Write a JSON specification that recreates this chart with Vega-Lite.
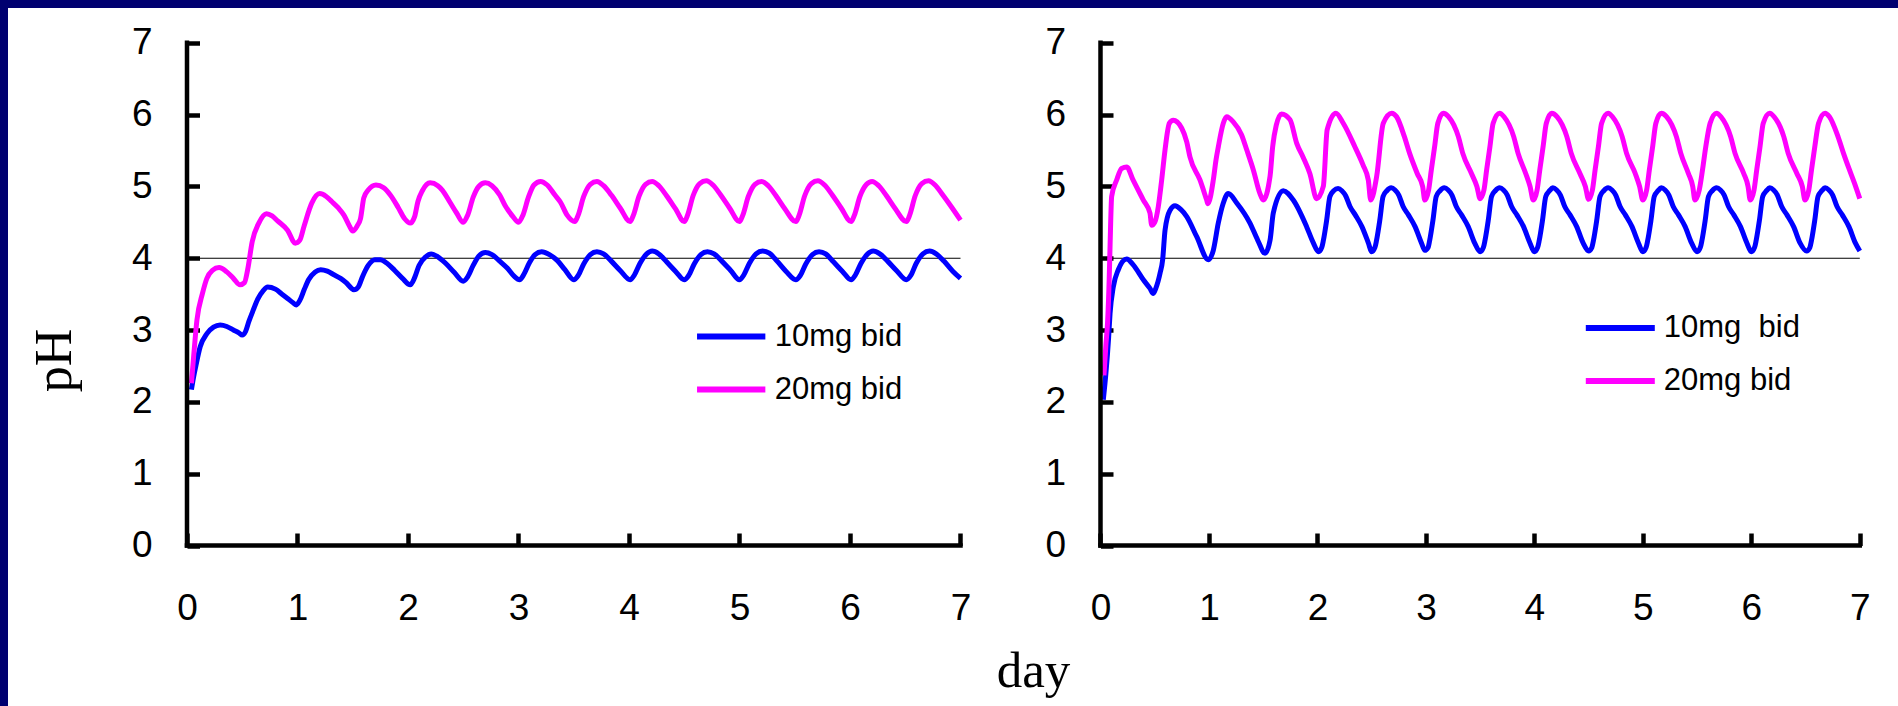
{
  "$schema": "https://vega.github.io/schema/vega-lite/v6.json",
  "width": 1890,
  "height": 698,
  "autosize": {"type": "none"},
  "padding": {"left": 8, "top": 8, "right": 0, "bottom": 0},
  "background": "#000070",
  "view": {"fill": "white", "stroke": null},
  "datasets": {
    "left": [
      {"dose":"10mg bid","day":0.04,"pH":2.17},{"dose":"10mg bid","day":0.06,"pH":2.35},{"dose":"10mg bid","day":0.08,"pH":2.5},{"dose":"10mg bid","day":0.12,"pH":2.77},{"dose":"10mg bid","day":0.18,"pH":2.95},{"dose":"10mg bid","day":0.24,"pH":3.04},{"dose":"10mg bid","day":0.3,"pH":3.07},{"dose":"10mg bid","day":0.36,"pH":3.05},{"dose":"10mg bid","day":0.42,"pH":3.0},{"dose":"10mg bid","day":0.47,"pH":2.96},{"dose":"10mg bid","day":0.5,"pH":2.93},{"dose":"10mg bid","day":0.53,"pH":2.98},{"dose":"10mg bid","day":0.56,"pH":3.12},{"dose":"10mg bid","day":0.6,"pH":3.28},{"dose":"10mg bid","day":0.64,"pH":3.43},{"dose":"10mg bid","day":0.69,"pH":3.55},{"dose":"10mg bid","day":0.73,"pH":3.6},{"dose":"10mg bid","day":0.8,"pH":3.57},{"dose":"10mg bid","day":0.86,"pH":3.5},{"dose":"10mg bid","day":0.91,"pH":3.44},{"dose":"10mg bid","day":0.96,"pH":3.38},{"dose":"10mg bid","day":0.99,"pH":3.35},{"dose":"10mg bid","day":1.02,"pH":3.41},{"dose":"10mg bid","day":1.06,"pH":3.56},{"dose":"10mg bid","day":1.1,"pH":3.7},{"dose":"10mg bid","day":1.16,"pH":3.81},{"dose":"10mg bid","day":1.21,"pH":3.84},{"dose":"10mg bid","day":1.27,"pH":3.82},{"dose":"10mg bid","day":1.33,"pH":3.77},{"dose":"10mg bid","day":1.39,"pH":3.72},{"dose":"10mg bid","day":1.44,"pH":3.66},{"dose":"10mg bid","day":1.49,"pH":3.58},{"dose":"10mg bid","day":1.51,"pH":3.56},{"dose":"10mg bid","day":1.55,"pH":3.6},{"dose":"10mg bid","day":1.59,"pH":3.75},{"dose":"10mg bid","day":1.64,"pH":3.9},{"dose":"10mg bid","day":1.7,"pH":3.98},{"dose":"10mg bid","day":1.75,"pH":3.98},{"dose":"10mg bid","day":1.81,"pH":3.93},{"dose":"10mg bid","day":1.88,"pH":3.83},{"dose":"10mg bid","day":1.95,"pH":3.72},{"dose":"10mg bid","day":2.02,"pH":3.63},{"dose":"10mg bid","day":2.06,"pH":3.73},{"dose":"10mg bid","day":2.1,"pH":3.9},{"dose":"10mg bid","day":2.16,"pH":4.02},{"dose":"10mg bid","day":2.21,"pH":4.06},{"dose":"10mg bid","day":2.27,"pH":4.02},{"dose":"10mg bid","day":2.34,"pH":3.93},{"dose":"10mg bid","day":2.42,"pH":3.8},{"dose":"10mg bid","day":2.5,"pH":3.68},{"dose":"10mg bid","day":2.54,"pH":3.74},{"dose":"10mg bid","day":2.59,"pH":3.9},{"dose":"10mg bid","day":2.64,"pH":4.03},{"dose":"10mg bid","day":2.7,"pH":4.08},{"dose":"10mg bid","day":2.76,"pH":4.05},{"dose":"10mg bid","day":2.83,"pH":3.96},{"dose":"10mg bid","day":2.9,"pH":3.86},{"dose":"10mg bid","day":2.96,"pH":3.75},{"dose":"10mg bid","day":3.01,"pH":3.7},{"dose":"10mg bid","day":3.05,"pH":3.78},{"dose":"10mg bid","day":3.1,"pH":3.94},{"dose":"10mg bid","day":3.15,"pH":4.05},{"dose":"10mg bid","day":3.21,"pH":4.09},{"dose":"10mg bid","day":3.28,"pH":4.05},{"dose":"10mg bid","day":3.35,"pH":3.97},{"dose":"10mg bid","day":3.42,"pH":3.84},{"dose":"10mg bid","day":3.5,"pH":3.7},{"dose":"10mg bid","day":3.54,"pH":3.76},{"dose":"10mg bid","day":3.59,"pH":3.92},{"dose":"10mg bid","day":3.65,"pH":4.05},{"dose":"10mg bid","day":3.71,"pH":4.09},{"dose":"10mg bid","day":3.77,"pH":4.06},{"dose":"10mg bid","day":3.84,"pH":3.96},{"dose":"10mg bid","day":3.92,"pH":3.83},{"dose":"10mg bid","day":4.01,"pH":3.7},{"dose":"10mg bid","day":4.05,"pH":3.77},{"dose":"10mg bid","day":4.1,"pH":3.93},{"dose":"10mg bid","day":4.16,"pH":4.06},{"dose":"10mg bid","day":4.21,"pH":4.1},{"dose":"10mg bid","day":4.27,"pH":4.06},{"dose":"10mg bid","day":4.34,"pH":3.95},{"dose":"10mg bid","day":4.42,"pH":3.82},{"dose":"10mg bid","day":4.5,"pH":3.7},{"dose":"10mg bid","day":4.54,"pH":3.76},{"dose":"10mg bid","day":4.59,"pH":3.92},{"dose":"10mg bid","day":4.65,"pH":4.05},{"dose":"10mg bid","day":4.71,"pH":4.09},{"dose":"10mg bid","day":4.77,"pH":4.06},{"dose":"10mg bid","day":4.84,"pH":3.96},{"dose":"10mg bid","day":4.92,"pH":3.83},{"dose":"10mg bid","day":5.0,"pH":3.7},{"dose":"10mg bid","day":5.04,"pH":3.77},{"dose":"10mg bid","day":5.09,"pH":3.93},{"dose":"10mg bid","day":5.15,"pH":4.06},{"dose":"10mg bid","day":5.21,"pH":4.1},{"dose":"10mg bid","day":5.27,"pH":4.07},{"dose":"10mg bid","day":5.34,"pH":3.96},{"dose":"10mg bid","day":5.42,"pH":3.82},{"dose":"10mg bid","day":5.51,"pH":3.7},{"dose":"10mg bid","day":5.55,"pH":3.76},{"dose":"10mg bid","day":5.6,"pH":3.92},{"dose":"10mg bid","day":5.66,"pH":4.05},{"dose":"10mg bid","day":5.72,"pH":4.09},{"dose":"10mg bid","day":5.78,"pH":4.06},{"dose":"10mg bid","day":5.85,"pH":3.95},{"dose":"10mg bid","day":5.93,"pH":3.82},{"dose":"10mg bid","day":6.01,"pH":3.7},{"dose":"10mg bid","day":6.05,"pH":3.77},{"dose":"10mg bid","day":6.1,"pH":3.93},{"dose":"10mg bid","day":6.16,"pH":4.06},{"dose":"10mg bid","day":6.21,"pH":4.1},{"dose":"10mg bid","day":6.27,"pH":4.06},{"dose":"10mg bid","day":6.34,"pH":3.96},{"dose":"10mg bid","day":6.42,"pH":3.83},{"dose":"10mg bid","day":6.51,"pH":3.7},{"dose":"10mg bid","day":6.55,"pH":3.76},{"dose":"10mg bid","day":6.6,"pH":3.93},{"dose":"10mg bid","day":6.66,"pH":4.06},{"dose":"10mg bid","day":6.72,"pH":4.1},{"dose":"10mg bid","day":6.78,"pH":4.06},{"dose":"10mg bid","day":6.85,"pH":3.96},{"dose":"10mg bid","day":6.93,"pH":3.82},{"dose":"10mg bid","day":7.0,"pH":3.72},
      {"dose":"20mg bid","day":0.04,"pH":2.26},{"dose":"20mg bid","day":0.06,"pH":2.63},{"dose":"20mg bid","day":0.09,"pH":3.14},{"dose":"20mg bid","day":0.14,"pH":3.51},{"dose":"20mg bid","day":0.18,"pH":3.72},{"dose":"20mg bid","day":0.23,"pH":3.83},{"dose":"20mg bid","day":0.29,"pH":3.87},{"dose":"20mg bid","day":0.36,"pH":3.81},{"dose":"20mg bid","day":0.42,"pH":3.72},{"dose":"20mg bid","day":0.48,"pH":3.63},{"dose":"20mg bid","day":0.52,"pH":3.66},{"dose":"20mg bid","day":0.55,"pH":3.85},{"dose":"20mg bid","day":0.59,"pH":4.23},{"dose":"20mg bid","day":0.65,"pH":4.49},{"dose":"20mg bid","day":0.72,"pH":4.62},{"dose":"20mg bid","day":0.77,"pH":4.59},{"dose":"20mg bid","day":0.82,"pH":4.52},{"dose":"20mg bid","day":0.91,"pH":4.39},{"dose":"20mg bid","day":0.98,"pH":4.21},{"dose":"20mg bid","day":1.02,"pH":4.25},{"dose":"20mg bid","day":1.06,"pH":4.45},{"dose":"20mg bid","day":1.13,"pH":4.77},{"dose":"20mg bid","day":1.2,"pH":4.9},{"dose":"20mg bid","day":1.26,"pH":4.86},{"dose":"20mg bid","day":1.31,"pH":4.79},{"dose":"20mg bid","day":1.37,"pH":4.7},{"dose":"20mg bid","day":1.42,"pH":4.6},{"dose":"20mg bid","day":1.47,"pH":4.45},{"dose":"20mg bid","day":1.5,"pH":4.38},{"dose":"20mg bid","day":1.54,"pH":4.45},{"dose":"20mg bid","day":1.57,"pH":4.55},{"dose":"20mg bid","day":1.6,"pH":4.84},{"dose":"20mg bid","day":1.64,"pH":4.95},{"dose":"20mg bid","day":1.71,"pH":5.02},{"dose":"20mg bid","day":1.78,"pH":4.98},{"dose":"20mg bid","day":1.84,"pH":4.88},{"dose":"20mg bid","day":1.91,"pH":4.71},{"dose":"20mg bid","day":1.97,"pH":4.55},{"dose":"20mg bid","day":2.02,"pH":4.49},{"dose":"20mg bid","day":2.06,"pH":4.58},{"dose":"20mg bid","day":2.09,"pH":4.79},{"dose":"20mg bid","day":2.13,"pH":4.94},{"dose":"20mg bid","day":2.2,"pH":5.05},{"dose":"20mg bid","day":2.27,"pH":5.01},{"dose":"20mg bid","day":2.31,"pH":4.95},{"dose":"20mg bid","day":2.38,"pH":4.78},{"dose":"20mg bid","day":2.44,"pH":4.63},{"dose":"20mg bid","day":2.5,"pH":4.5},{"dose":"20mg bid","day":2.54,"pH":4.6},{"dose":"20mg bid","day":2.59,"pH":4.85},{"dose":"20mg bid","day":2.64,"pH":5.0},{"dose":"20mg bid","day":2.7,"pH":5.05},{"dose":"20mg bid","day":2.76,"pH":5.01},{"dose":"20mg bid","day":2.83,"pH":4.88},{"dose":"20mg bid","day":2.88,"pH":4.73},{"dose":"20mg bid","day":2.95,"pH":4.58},{"dose":"20mg bid","day":3.0,"pH":4.5},{"dose":"20mg bid","day":3.04,"pH":4.6},{"dose":"20mg bid","day":3.09,"pH":4.85},{"dose":"20mg bid","day":3.14,"pH":5.02},{"dose":"20mg bid","day":3.2,"pH":5.07},{"dose":"20mg bid","day":3.26,"pH":5.02},{"dose":"20mg bid","day":3.33,"pH":4.88},{"dose":"20mg bid","day":3.38,"pH":4.78},{"dose":"20mg bid","day":3.44,"pH":4.6},{"dose":"20mg bid","day":3.51,"pH":4.51},{"dose":"20mg bid","day":3.54,"pH":4.6},{"dose":"20mg bid","day":3.59,"pH":4.86},{"dose":"20mg bid","day":3.65,"pH":5.03},{"dose":"20mg bid","day":3.71,"pH":5.07},{"dose":"20mg bid","day":3.77,"pH":5.01},{"dose":"20mg bid","day":3.84,"pH":4.88},{"dose":"20mg bid","day":3.92,"pH":4.7},{"dose":"20mg bid","day":4.01,"pH":4.51},{"dose":"20mg bid","day":4.04,"pH":4.6},{"dose":"20mg bid","day":4.09,"pH":4.86},{"dose":"20mg bid","day":4.15,"pH":5.03},{"dose":"20mg bid","day":4.21,"pH":5.07},{"dose":"20mg bid","day":4.27,"pH":5.01},{"dose":"20mg bid","day":4.34,"pH":4.87},{"dose":"20mg bid","day":4.42,"pH":4.69},{"dose":"20mg bid","day":4.5,"pH":4.51},{"dose":"20mg bid","day":4.53,"pH":4.6},{"dose":"20mg bid","day":4.58,"pH":4.87},{"dose":"20mg bid","day":4.64,"pH":5.04},{"dose":"20mg bid","day":4.7,"pH":5.08},{"dose":"20mg bid","day":4.76,"pH":5.02},{"dose":"20mg bid","day":4.83,"pH":4.88},{"dose":"20mg bid","day":4.91,"pH":4.7},{"dose":"20mg bid","day":5.0,"pH":4.51},{"dose":"20mg bid","day":5.03,"pH":4.6},{"dose":"20mg bid","day":5.08,"pH":4.86},{"dose":"20mg bid","day":5.14,"pH":5.03},{"dose":"20mg bid","day":5.2,"pH":5.07},{"dose":"20mg bid","day":5.26,"pH":5.01},{"dose":"20mg bid","day":5.33,"pH":4.87},{"dose":"20mg bid","day":5.41,"pH":4.69},{"dose":"20mg bid","day":5.51,"pH":4.51},{"dose":"20mg bid","day":5.54,"pH":4.6},{"dose":"20mg bid","day":5.59,"pH":4.87},{"dose":"20mg bid","day":5.65,"pH":5.04},{"dose":"20mg bid","day":5.71,"pH":5.08},{"dose":"20mg bid","day":5.77,"pH":5.02},{"dose":"20mg bid","day":5.84,"pH":4.88},{"dose":"20mg bid","day":5.92,"pH":4.7},{"dose":"20mg bid","day":6.01,"pH":4.51},{"dose":"20mg bid","day":6.04,"pH":4.6},{"dose":"20mg bid","day":6.09,"pH":4.86},{"dose":"20mg bid","day":6.15,"pH":5.03},{"dose":"20mg bid","day":6.2,"pH":5.07},{"dose":"20mg bid","day":6.26,"pH":5.01},{"dose":"20mg bid","day":6.33,"pH":4.87},{"dose":"20mg bid","day":6.41,"pH":4.69},{"dose":"20mg bid","day":6.51,"pH":4.51},{"dose":"20mg bid","day":6.54,"pH":4.6},{"dose":"20mg bid","day":6.59,"pH":4.87},{"dose":"20mg bid","day":6.65,"pH":5.04},{"dose":"20mg bid","day":6.71,"pH":5.08},{"dose":"20mg bid","day":6.77,"pH":5.02},{"dose":"20mg bid","day":6.84,"pH":4.88},{"dose":"20mg bid","day":6.92,"pH":4.71},{"dose":"20mg bid","day":7.0,"pH":4.53}
    ],
    "right": [
      {"dose":"10mg bid","day":0.026,"pH":2.03},{"dose":"10mg bid","day":0.05,"pH":2.4},{"dose":"10mg bid","day":0.075,"pH":2.9},{"dose":"10mg bid","day":0.088,"pH":3.23},{"dose":"10mg bid","day":0.118,"pH":3.6},{"dose":"10mg bid","day":0.164,"pH":3.84},{"dose":"10mg bid","day":0.242,"pH":3.99},{"dose":"10mg bid","day":0.3,"pH":3.91},{"dose":"10mg bid","day":0.395,"pH":3.7},{"dose":"10mg bid","day":0.456,"pH":3.58},{"dose":"10mg bid","day":0.487,"pH":3.51},{"dose":"10mg bid","day":0.51,"pH":3.58},{"dose":"10mg bid","day":0.549,"pH":3.79},{"dose":"10mg bid","day":0.573,"pH":3.98},{"dose":"10mg bid","day":0.595,"pH":4.39},{"dose":"10mg bid","day":0.641,"pH":4.67},{"dose":"10mg bid","day":0.687,"pH":4.73},{"dose":"10mg bid","day":0.74,"pH":4.68},{"dose":"10mg bid","day":0.795,"pH":4.58},{"dose":"10mg bid","day":0.887,"pH":4.3},{"dose":"10mg bid","day":0.994,"pH":3.98},{"dose":"10mg bid","day":1.04,"pH":4.11},{"dose":"10mg bid","day":1.086,"pH":4.49},{"dose":"10mg bid","day":1.13,"pH":4.76},{"dose":"10mg bid","day":1.178,"pH":4.9},{"dose":"10mg bid","day":1.256,"pH":4.77},{"dose":"10mg bid","day":1.378,"pH":4.49},{"dose":"10mg bid","day":1.45,"pH":4.25},{"dose":"10mg bid","day":1.517,"pH":4.07},{"dose":"10mg bid","day":1.563,"pH":4.25},{"dose":"10mg bid","day":1.593,"pH":4.63},{"dose":"10mg bid","day":1.685,"pH":4.94},{"dose":"10mg bid","day":1.777,"pH":4.81},{"dose":"10mg bid","day":1.9,"pH":4.44},{"dose":"10mg bid","day":1.96,"pH":4.22},
      {"dose":"10mg bid","day":2.01,"pH":4.09},{"dose":"10mg bid","day":2.04,"pH":4.15},{"dose":"10mg bid","day":2.055,"pH":4.25},{"dose":"10mg bid","day":2.085,"pH":4.53},{"dose":"10mg bid","day":2.115,"pH":4.86},{"dose":"10mg bid","day":2.15,"pH":4.94},{"dose":"10mg bid","day":2.19,"pH":4.97},{"dose":"10mg bid","day":2.225,"pH":4.94},{"dose":"10mg bid","day":2.26,"pH":4.87},{"dose":"10mg bid","day":2.3,"pH":4.72},{"dose":"10mg bid","day":2.35,"pH":4.6},{"dose":"10mg bid","day":2.41,"pH":4.44},{"dose":"10mg bid","day":2.47,"pH":4.21},
      {"dose":"10mg bid","day":2.5,"pH":4.09},{"dose":"10mg bid","day":2.53,"pH":4.15},{"dose":"10mg bid","day":2.545,"pH":4.25},{"dose":"10mg bid","day":2.575,"pH":4.53},{"dose":"10mg bid","day":2.605,"pH":4.86},{"dose":"10mg bid","day":2.64,"pH":4.94},{"dose":"10mg bid","day":2.68,"pH":4.98},{"dose":"10mg bid","day":2.715,"pH":4.95},{"dose":"10mg bid","day":2.75,"pH":4.88},{"dose":"10mg bid","day":2.79,"pH":4.72},{"dose":"10mg bid","day":2.84,"pH":4.6},{"dose":"10mg bid","day":2.9,"pH":4.44},{"dose":"10mg bid","day":2.96,"pH":4.21},
      {"dose":"10mg bid","day":2.99,"pH":4.11},{"dose":"10mg bid","day":3.02,"pH":4.15},{"dose":"10mg bid","day":3.035,"pH":4.25},{"dose":"10mg bid","day":3.065,"pH":4.53},{"dose":"10mg bid","day":3.095,"pH":4.86},{"dose":"10mg bid","day":3.13,"pH":4.94},{"dose":"10mg bid","day":3.17,"pH":4.98},{"dose":"10mg bid","day":3.205,"pH":4.95},{"dose":"10mg bid","day":3.24,"pH":4.88},{"dose":"10mg bid","day":3.28,"pH":4.72},{"dose":"10mg bid","day":3.33,"pH":4.6},{"dose":"10mg bid","day":3.39,"pH":4.44},{"dose":"10mg bid","day":3.45,"pH":4.21},
      {"dose":"10mg bid","day":3.5,"pH":4.09},{"dose":"10mg bid","day":3.53,"pH":4.15},{"dose":"10mg bid","day":3.545,"pH":4.25},{"dose":"10mg bid","day":3.575,"pH":4.53},{"dose":"10mg bid","day":3.605,"pH":4.86},{"dose":"10mg bid","day":3.64,"pH":4.94},{"dose":"10mg bid","day":3.68,"pH":4.98},{"dose":"10mg bid","day":3.715,"pH":4.95},{"dose":"10mg bid","day":3.75,"pH":4.88},{"dose":"10mg bid","day":3.79,"pH":4.72},{"dose":"10mg bid","day":3.84,"pH":4.6},{"dose":"10mg bid","day":3.9,"pH":4.44},{"dose":"10mg bid","day":3.96,"pH":4.21},
      {"dose":"10mg bid","day":4.0,"pH":4.09},{"dose":"10mg bid","day":4.03,"pH":4.15},{"dose":"10mg bid","day":4.045,"pH":4.25},{"dose":"10mg bid","day":4.075,"pH":4.53},{"dose":"10mg bid","day":4.105,"pH":4.86},{"dose":"10mg bid","day":4.14,"pH":4.94},{"dose":"10mg bid","day":4.17,"pH":4.98},{"dose":"10mg bid","day":4.205,"pH":4.95},{"dose":"10mg bid","day":4.24,"pH":4.88},{"dose":"10mg bid","day":4.28,"pH":4.72},{"dose":"10mg bid","day":4.33,"pH":4.6},{"dose":"10mg bid","day":4.39,"pH":4.44},{"dose":"10mg bid","day":4.45,"pH":4.21},
      {"dose":"10mg bid","day":4.5,"pH":4.1},{"dose":"10mg bid","day":4.53,"pH":4.15},{"dose":"10mg bid","day":4.545,"pH":4.25},{"dose":"10mg bid","day":4.575,"pH":4.53},{"dose":"10mg bid","day":4.605,"pH":4.86},{"dose":"10mg bid","day":4.64,"pH":4.94},{"dose":"10mg bid","day":4.68,"pH":4.98},{"dose":"10mg bid","day":4.715,"pH":4.95},{"dose":"10mg bid","day":4.75,"pH":4.88},{"dose":"10mg bid","day":4.79,"pH":4.72},{"dose":"10mg bid","day":4.84,"pH":4.6},{"dose":"10mg bid","day":4.9,"pH":4.44},{"dose":"10mg bid","day":4.96,"pH":4.21},
      {"dose":"10mg bid","day":5.0,"pH":4.09},{"dose":"10mg bid","day":5.03,"pH":4.15},{"dose":"10mg bid","day":5.045,"pH":4.25},{"dose":"10mg bid","day":5.075,"pH":4.53},{"dose":"10mg bid","day":5.105,"pH":4.86},{"dose":"10mg bid","day":5.14,"pH":4.94},{"dose":"10mg bid","day":5.17,"pH":4.98},{"dose":"10mg bid","day":5.205,"pH":4.95},{"dose":"10mg bid","day":5.24,"pH":4.88},{"dose":"10mg bid","day":5.28,"pH":4.72},{"dose":"10mg bid","day":5.33,"pH":4.6},{"dose":"10mg bid","day":5.39,"pH":4.44},{"dose":"10mg bid","day":5.45,"pH":4.21},
      {"dose":"10mg bid","day":5.5,"pH":4.09},{"dose":"10mg bid","day":5.53,"pH":4.15},{"dose":"10mg bid","day":5.545,"pH":4.25},{"dose":"10mg bid","day":5.575,"pH":4.53},{"dose":"10mg bid","day":5.605,"pH":4.86},{"dose":"10mg bid","day":5.64,"pH":4.94},{"dose":"10mg bid","day":5.68,"pH":4.98},{"dose":"10mg bid","day":5.715,"pH":4.95},{"dose":"10mg bid","day":5.75,"pH":4.88},{"dose":"10mg bid","day":5.79,"pH":4.72},{"dose":"10mg bid","day":5.84,"pH":4.6},{"dose":"10mg bid","day":5.9,"pH":4.44},{"dose":"10mg bid","day":5.96,"pH":4.21},
      {"dose":"10mg bid","day":6.0,"pH":4.09},{"dose":"10mg bid","day":6.03,"pH":4.15},{"dose":"10mg bid","day":6.045,"pH":4.25},{"dose":"10mg bid","day":6.075,"pH":4.53},{"dose":"10mg bid","day":6.105,"pH":4.86},{"dose":"10mg bid","day":6.14,"pH":4.94},{"dose":"10mg bid","day":6.17,"pH":4.98},{"dose":"10mg bid","day":6.205,"pH":4.95},{"dose":"10mg bid","day":6.24,"pH":4.88},{"dose":"10mg bid","day":6.28,"pH":4.72},{"dose":"10mg bid","day":6.33,"pH":4.6},{"dose":"10mg bid","day":6.39,"pH":4.44},{"dose":"10mg bid","day":6.45,"pH":4.21},
      {"dose":"10mg bid","day":6.51,"pH":4.1},{"dose":"10mg bid","day":6.54,"pH":4.15},{"dose":"10mg bid","day":6.555,"pH":4.25},{"dose":"10mg bid","day":6.585,"pH":4.53},{"dose":"10mg bid","day":6.615,"pH":4.86},{"dose":"10mg bid","day":6.65,"pH":4.94},{"dose":"10mg bid","day":6.68,"pH":4.98},{"dose":"10mg bid","day":6.715,"pH":4.95},{"dose":"10mg bid","day":6.75,"pH":4.88},{"dose":"10mg bid","day":6.79,"pH":4.72},{"dose":"10mg bid","day":6.84,"pH":4.6},{"dose":"10mg bid","day":6.9,"pH":4.44},{"dose":"10mg bid","day":6.96,"pH":4.21},{"dose":"10mg bid","day":7.0,"pH":4.1},
      {"dose":"20mg bid","day":0.032,"pH":2.37},{"dose":"20mg bid","day":0.05,"pH":2.8},{"dose":"20mg bid","day":0.065,"pH":3.1},{"dose":"20mg bid","day":0.08,"pH":3.7},{"dose":"20mg bid","day":0.088,"pH":4.16},{"dose":"20mg bid","day":0.103,"pH":4.86},{"dose":"20mg bid","day":0.149,"pH":5.09},{"dose":"20mg bid","day":0.195,"pH":5.25},{"dose":"20mg bid","day":0.242,"pH":5.27},{"dose":"20mg bid","day":0.3,"pH":5.09},{"dose":"20mg bid","day":0.395,"pH":4.81},{"dose":"20mg bid","day":0.456,"pH":4.63},{"dose":"20mg bid","day":0.472,"pH":4.46},{"dose":"20mg bid","day":0.5,"pH":4.5},{"dose":"20mg bid","day":0.533,"pH":4.72},{"dose":"20mg bid","day":0.564,"pH":5.09},{"dose":"20mg bid","day":0.595,"pH":5.51},{"dose":"20mg bid","day":0.635,"pH":5.88},{"dose":"20mg bid","day":0.671,"pH":5.92},{"dose":"20mg bid","day":0.749,"pH":5.81},{"dose":"20mg bid","day":0.795,"pH":5.62},{"dose":"20mg bid","day":0.825,"pH":5.41},{"dose":"20mg bid","day":0.917,"pH":5.09},{"dose":"20mg bid","day":0.979,"pH":4.81},{"dose":"20mg bid","day":0.99,"pH":4.76},{"dose":"20mg bid","day":1.04,"pH":5.09},{"dose":"20mg bid","day":1.065,"pH":5.37},{"dose":"20mg bid","day":1.086,"pH":5.55},{"dose":"20mg bid","day":1.132,"pH":5.88},{"dose":"20mg bid","day":1.163,"pH":5.97},{"dose":"20mg bid","day":1.224,"pH":5.9},{"dose":"20mg bid","day":1.3,"pH":5.72},{"dose":"20mg bid","day":1.348,"pH":5.51},{"dose":"20mg bid","day":1.409,"pH":5.23},{"dose":"20mg bid","day":1.47,"pH":4.9},{"dose":"20mg bid","day":1.5,"pH":4.81},{"dose":"20mg bid","day":1.563,"pH":5.14},{"dose":"20mg bid","day":1.587,"pH":5.55},{"dose":"20mg bid","day":1.62,"pH":5.85},{"dose":"20mg bid","day":1.67,"pH":6.01},{"dose":"20mg bid","day":1.747,"pH":5.93},{"dose":"20mg bid","day":1.809,"pH":5.6},{"dose":"20mg bid","day":1.87,"pH":5.4},{"dose":"20mg bid","day":1.93,"pH":5.18},{"dose":"20mg bid","day":1.993,"pH":4.83},{"dose":"20mg bid","day":2.054,"pH":5.0},{"dose":"20mg bid","day":2.09,"pH":5.79},{"dose":"20mg bid","day":2.17,"pH":6.02},{"dose":"20mg bid","day":2.238,"pH":5.88},{"dose":"20mg bid","day":2.346,"pH":5.55},{"dose":"20mg bid","day":2.42,"pH":5.3},{"dose":"20mg bid","day":2.469,"pH":5.09},{"dose":"20mg bid","day":2.491,"pH":4.81},{"dose":"20mg bid","day":2.546,"pH":5.14},{"dose":"20mg bid","day":2.607,"pH":5.88},{"dose":"20mg bid","day":2.685,"pH":6.02},{"dose":"20mg bid","day":2.73,"pH":5.97},{"dose":"20mg bid","day":2.8,"pH":5.7},{"dose":"20mg bid","day":2.85,"pH":5.46},{"dose":"20mg bid","day":2.92,"pH":5.18},{"dose":"20mg bid","day":2.97,"pH":5.0},
      {"dose":"20mg bid","day":2.99,"pH":4.81},{"dose":"20mg bid","day":3.025,"pH":4.95},{"dose":"20mg bid","day":3.05,"pH":5.23},{"dose":"20mg bid","day":3.08,"pH":5.55},{"dose":"20mg bid","day":3.11,"pH":5.88},{"dose":"20mg bid","day":3.16,"pH":6.02},{"dose":"20mg bid","day":3.21,"pH":5.97},{"dose":"20mg bid","day":3.3,"pH":5.69},{"dose":"20mg bid","day":3.34,"pH":5.46},{"dose":"20mg bid","day":3.42,"pH":5.18},{"dose":"20mg bid","day":3.47,"pH":5.0},
      {"dose":"20mg bid","day":3.5,"pH":4.83},{"dose":"20mg bid","day":3.535,"pH":4.95},{"dose":"20mg bid","day":3.56,"pH":5.23},{"dose":"20mg bid","day":3.59,"pH":5.55},{"dose":"20mg bid","day":3.62,"pH":5.88},{"dose":"20mg bid","day":3.68,"pH":6.02},{"dose":"20mg bid","day":3.72,"pH":5.97},{"dose":"20mg bid","day":3.81,"pH":5.69},{"dose":"20mg bid","day":3.85,"pH":5.46},{"dose":"20mg bid","day":3.92,"pH":5.18},{"dose":"20mg bid","day":3.96,"pH":5.0},
      {"dose":"20mg bid","day":3.99,"pH":4.81},{"dose":"20mg bid","day":4.025,"pH":4.95},{"dose":"20mg bid","day":4.05,"pH":5.23},{"dose":"20mg bid","day":4.08,"pH":5.55},{"dose":"20mg bid","day":4.11,"pH":5.88},{"dose":"20mg bid","day":4.16,"pH":6.02},{"dose":"20mg bid","day":4.21,"pH":5.97},{"dose":"20mg bid","day":4.3,"pH":5.69},{"dose":"20mg bid","day":4.34,"pH":5.46},{"dose":"20mg bid","day":4.42,"pH":5.18},{"dose":"20mg bid","day":4.47,"pH":5.0},
      {"dose":"20mg bid","day":4.5,"pH":4.82},{"dose":"20mg bid","day":4.535,"pH":4.95},{"dose":"20mg bid","day":4.56,"pH":5.23},{"dose":"20mg bid","day":4.59,"pH":5.55},{"dose":"20mg bid","day":4.62,"pH":5.88},{"dose":"20mg bid","day":4.68,"pH":6.02},{"dose":"20mg bid","day":4.72,"pH":5.97},{"dose":"20mg bid","day":4.81,"pH":5.69},{"dose":"20mg bid","day":4.85,"pH":5.46},{"dose":"20mg bid","day":4.93,"pH":5.18},{"dose":"20mg bid","day":4.97,"pH":5.0},
      {"dose":"20mg bid","day":5.0,"pH":4.81},{"dose":"20mg bid","day":5.035,"pH":4.95},{"dose":"20mg bid","day":5.06,"pH":5.23},{"dose":"20mg bid","day":5.09,"pH":5.55},{"dose":"20mg bid","day":5.12,"pH":5.88},{"dose":"20mg bid","day":5.17,"pH":6.02},{"dose":"20mg bid","day":5.22,"pH":5.97},{"dose":"20mg bid","day":5.31,"pH":5.69},{"dose":"20mg bid","day":5.35,"pH":5.46},{"dose":"20mg bid","day":5.42,"pH":5.18},{"dose":"20mg bid","day":5.46,"pH":5.0},
      {"dose":"20mg bid","day":5.48,"pH":4.81},{"dose":"20mg bid","day":5.52,"pH":4.95},{"dose":"20mg bid","day":5.55,"pH":5.23},{"dose":"20mg bid","day":5.58,"pH":5.55},{"dose":"20mg bid","day":5.62,"pH":5.88},{"dose":"20mg bid","day":5.68,"pH":6.02},{"dose":"20mg bid","day":5.72,"pH":5.97},{"dose":"20mg bid","day":5.81,"pH":5.69},{"dose":"20mg bid","day":5.85,"pH":5.46},{"dose":"20mg bid","day":5.93,"pH":5.18},{"dose":"20mg bid","day":5.97,"pH":5.0},
      {"dose":"20mg bid","day":5.99,"pH":4.81},{"dose":"20mg bid","day":6.025,"pH":4.95},{"dose":"20mg bid","day":6.05,"pH":5.23},{"dose":"20mg bid","day":6.08,"pH":5.55},{"dose":"20mg bid","day":6.11,"pH":5.88},{"dose":"20mg bid","day":6.17,"pH":6.02},{"dose":"20mg bid","day":6.21,"pH":5.97},{"dose":"20mg bid","day":6.3,"pH":5.69},{"dose":"20mg bid","day":6.34,"pH":5.46},{"dose":"20mg bid","day":6.42,"pH":5.18},{"dose":"20mg bid","day":6.47,"pH":5.0},
      {"dose":"20mg bid","day":6.495,"pH":4.81},{"dose":"20mg bid","day":6.53,"pH":4.95},{"dose":"20mg bid","day":6.555,"pH":5.23},{"dose":"20mg bid","day":6.585,"pH":5.55},{"dose":"20mg bid","day":6.62,"pH":5.88},{"dose":"20mg bid","day":6.68,"pH":6.02},{"dose":"20mg bid","day":6.72,"pH":5.97},{"dose":"20mg bid","day":6.8,"pH":5.69},{"dose":"20mg bid","day":6.85,"pH":5.46},{"dose":"20mg bid","day":6.9,"pH":5.25},{"dose":"20mg bid","day":6.95,"pH":5.05},{"dose":"20mg bid","day":7.0,"pH":4.83}
    ]
  },
  "layer": [
    {
      "layer": [
        {
          "data": {"values": [{}]},
          "mark": {"type": "rule", "color": "black", "strokeWidth": 1.2},
          "encoding": {"x": {"datum": 0, "type": "quantitative"}, "x2": {"datum": 7}, "y": {"datum": 4, "type": "quantitative"}}
        },
        {
          "data": {"name": "left"},
          "mark": {"type": "line", "strokeWidth": 5, "interpolate": "monotone"},
          "encoding": {
            "x": {
              "field": "day", "type": "quantitative",
              "scale": {"domain": [-1.6199, 15.4842], "nice": false, "zero": false},
              "axis": {"orient": "bottom", "offset": -160.5, "values": [0,1,2,3,4,5,6,7], "format": "d", "domain": false, "grid": false, "tickSize": -12.5, "tickWidth": 4.5, "tickColor": "black", "labelFont": "Liberation Sans", "labelFontSize": 37, "labelColor": "black", "labelPadding": 57, "labelFlush": false, "labelOverlap": false, "title": null}
            },
            "y": {
              "field": "pH", "type": "quantitative",
              "scale": {"domain": [-2.2349, 7.4846], "nice": false, "zero": false},
              "axis": {"orient": "left", "offset": -179, "values": [0,1,2,3,4,5,6,7], "format": "d", "domain": false, "grid": false, "tickSize": -12.5, "tickWidth": 4.5, "tickColor": "black", "labelFont": "Liberation Sans", "labelFontSize": 37, "labelColor": "black", "labelPadding": 47.5, "labelFlush": false, "labelOverlap": false,
                "title": "pH", "titleFont": "Liberation Serif", "titleFontSize": 52, "titleFontWeight": "normal", "titleColor": "black", "titleAngle": 270, "titleX": -117, "titleY": 352, "titleAlign": "center", "titleBaseline": "alphabetic"}
            },
            "color": {
              "field": "dose", "type": "nominal",
              "scale": {"domain": ["10mg bid", "20mg bid"], "range": ["#0000FF", "#FF00FF"]},
              "legend": {"orient": "none", "legendX": 685.7, "legendY": 291, "title": null, "symbolType": "stroke", "symbolSize": 4666, "symbolStrokeWidth": 6, "labelFont": "Liberation Sans", "labelFontSize": 31, "labelColor": "black", "labelOffset": 6, "rowPadding": -20, "padding": 0}
            }
          }
        },
        {
          "data": {"values": [{}]},
          "mark": {"type": "rule", "color": "black", "strokeWidth": 4.5, "strokeCap": "square"},
          "encoding": {"x": {"datum": 0, "type": "quantitative"}, "x2": {"datum": 7}, "y": {"datum": 0, "type": "quantitative"}}
        },
        {
          "data": {"values": [{}]},
          "mark": {"type": "rule", "color": "black", "strokeWidth": 4.5, "strokeCap": "square"},
          "encoding": {"x": {"datum": 0, "type": "quantitative"}, "y": {"datum": 0, "type": "quantitative"}, "y2": {"datum": 7}}
        }
      ]
    },
    {
      "layer": [
        {
          "data": {"values": [{}]},
          "mark": {"type": "rule", "color": "black", "strokeWidth": 1.2},
          "encoding": {"x": {"datum": 0, "type": "quantitative"}, "x2": {"datum": 7}, "y": {"datum": 4, "type": "quantitative"}}
        },
        {
          "data": {"name": "right"},
          "mark": {"type": "line", "strokeWidth": 5, "interpolate": "monotone"},
          "encoding": {
            "x": {
              "field": "day", "type": "quantitative",
              "scale": {"domain": [-10.0719, 7.3523], "nice": false, "zero": false},
              "axis": {"orient": "bottom", "offset": -160.5, "values": [0,1,2,3,4,5,6,7], "format": "d", "domain": false, "grid": false, "tickSize": -12.5, "tickWidth": 4.5, "tickColor": "black", "labelFont": "Liberation Sans", "labelFontSize": 37, "labelColor": "black", "labelPadding": 57, "labelFlush": false, "labelOverlap": false,
                "title": "day", "titleFont": "Liberation Serif", "titleFontSize": 51, "titleFontWeight": "normal", "titleColor": "black", "titleAngle": 0, "titleX": 1025, "titleY": 141.2, "titleAlign": "center", "titleBaseline": "alphabetic"}
            },
            "y": {
              "field": "pH", "type": "quantitative",
              "scale": {"domain": [-2.2349, 7.4846], "nice": false, "zero": false},
              "axis": {"orient": "left", "offset": -1092.5, "values": [0,1,2,3,4,5,6,7], "format": "d", "domain": false, "grid": false, "tickSize": -12.5, "tickWidth": 4.5, "tickColor": "black", "labelFont": "Liberation Sans", "labelFontSize": 37, "labelColor": "black", "labelPadding": 47.5, "labelFlush": false, "labelOverlap": false, "title": null}
            },
            "color": {
              "field": "dose", "type": "nominal",
              "scale": {"domain": ["10mg bid", "20mg bid"], "range": ["#0000FF", "#FF00FF"]},
              "legend": {"orient": "none", "legendX": 1574.8, "legendY": 282.5, "title": null, "symbolType": "stroke", "symbolSize": 4761, "symbolStrokeWidth": 6, "labelFont": "Liberation Sans", "labelFontSize": 31, "labelColor": "black", "labelOffset": 6, "rowPadding": -20, "padding": 0,
                "labelExpr": "datum.label == '10mg bid' ? '10mg\u00a0 bid' : datum.label"}
            }
          }
        },
        {
          "data": {"values": [{}]},
          "mark": {"type": "rule", "color": "black", "strokeWidth": 4.5, "strokeCap": "square"},
          "encoding": {"x": {"datum": 0, "type": "quantitative"}, "x2": {"datum": 7}, "y": {"datum": 0, "type": "quantitative"}}
        },
        {
          "data": {"values": [{}]},
          "mark": {"type": "rule", "color": "black", "strokeWidth": 4.5, "strokeCap": "square"},
          "encoding": {"x": {"datum": 0, "type": "quantitative"}, "y": {"datum": 0, "type": "quantitative"}, "y2": {"datum": 7}}
        }
      ]
    }
  ],
  "resolve": {
    "scale": {"x": "independent", "y": "independent", "color": "independent"},
    "axis": {"x": "independent", "y": "independent"},
    "legend": {"color": "independent"}
  }
}
